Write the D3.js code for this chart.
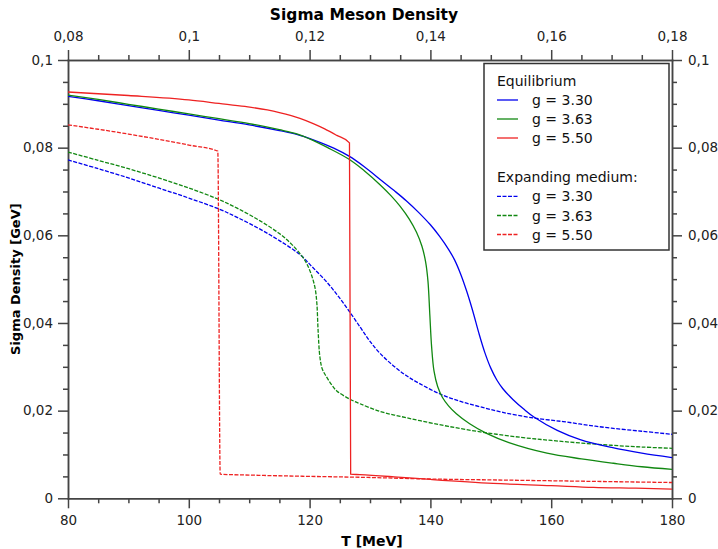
<!DOCTYPE html>
<html>
<head>
<meta charset="utf-8">
<script src="https://cdn.jsdelivr.net/npm/d3@7"></script>
<style>
  body { margin: 0; background: #fff; }
  svg { display: block; font-family: "DejaVu Sans", sans-serif; }
  .axis path, .axis line { stroke: #444; stroke-width: 1.5; }
  .axis text { fill: #222; font-size: 13.5px; font-family: "DejaVu Sans", sans-serif; }
  .curve { fill: none; stroke-width: 1.3; }
</style>
</head>
<body>
<svg id="chart" width="718" height="549"></svg>
<script>
// ============================================
// DATA
// ============================================

// Equilibrium, g = 3.30
const tEq330 = [80, 85, 90, 95, 100, 105, 110, 115, 118, 120.6, 124, 126.6, 129, 132, 134, 136, 138, 140, 141.5, 143, 144, 145, 146, 147, 148, 149, 150, 151, 152, 153.7, 155.5, 157.2, 161, 164.8, 170, 175, 180];
const vEq330 = [0.0917, 0.0907, 0.0896, 0.0885, 0.0874, 0.0863, 0.0852, 0.0839, 0.0830, 0.0818, 0.0799, 0.0780, 0.0757, 0.0724, 0.0702, 0.0679, 0.0653, 0.0624, 0.0598, 0.0568, 0.0544, 0.0512, 0.0473, 0.0428, 0.0378, 0.0333, 0.0297, 0.0270, 0.0250, 0.0225, 0.0203, 0.0185, 0.0155, 0.0134, 0.0116, 0.0103, 0.0093];

// Equilibrium, g = 3.63
const tEq363 = [80, 85, 90, 95, 100, 105, 110, 115, 118, 120, 123, 126.6, 129, 131.7, 133.5, 135, 136.5, 137.7, 138.6, 139.2, 139.6, 139.9, 140.2, 140.6, 141.2, 142, 143, 144.3, 146.5, 149.3, 153, 159.3, 165, 170.3, 175, 180];
const vEq363 = [0.0920, 0.0910, 0.0899, 0.0888, 0.0877, 0.0866, 0.0855, 0.0841, 0.0831, 0.0820, 0.0800, 0.0773, 0.0748, 0.0715, 0.0690, 0.0666, 0.0637, 0.0607, 0.0575, 0.0540, 0.0495, 0.0420, 0.0346, 0.0290, 0.0255, 0.0230, 0.0211, 0.0193, 0.0170, 0.0148, 0.0127, 0.0103, 0.0090, 0.0080, 0.0072, 0.0066];

// Equilibrium, g = 5.50
const tEq550 = [80, 90, 100, 105, 109.3, 113, 115, 118.4, 120.6, 122.5, 124.5, 126.6, 126.8, 128.3, 134, 140, 150.4, 160, 167, 174, 180];
const vEq550 = [0.0927, 0.0919, 0.0909, 0.0901, 0.0894, 0.0886, 0.0880, 0.0867, 0.0855, 0.0843, 0.0828, 0.0811, 0.0055, 0.0054, 0.0049, 0.0043, 0.0034, 0.0029, 0.0025, 0.0023, 0.0021];

// Expanding medium, g = 3.30
const tExp330 = [80, 85, 90, 95, 100, 105, 108, 111.8, 115, 118.4, 120.5, 122.8, 124.8, 126.7, 128.5, 130, 131.7, 133.9, 136, 138.3, 141.6, 145, 148.2, 152, 157.2, 162, 166, 170, 175, 180];
const vExp330 = [0.0772, 0.0752, 0.0731, 0.0708, 0.0685, 0.0660, 0.0641, 0.0614, 0.0588, 0.0556, 0.0527, 0.0494, 0.0460, 0.0424, 0.0388, 0.0358, 0.0330, 0.0302, 0.0280, 0.0261, 0.0238, 0.0221, 0.0209, 0.0196, 0.0183, 0.0175, 0.0167, 0.0160, 0.0153, 0.0146];

// Expanding medium, g = 3.63
const tExp363 = [80, 85, 90, 95, 100, 104.6, 108, 111.8, 115, 117, 118.7, 119.5, 120.3, 120.9, 121.2, 121.4, 121.7, 122.1, 122.8, 123.6, 124.5, 126.7, 128.3, 131.7, 135, 138.3, 143, 149, 155, 160, 165, 170, 175, 180];
const vExp363 = [0.0790, 0.0771, 0.0752, 0.0731, 0.0708, 0.0684, 0.0662, 0.0633, 0.0604, 0.0580, 0.0553, 0.0536, 0.0510, 0.0480, 0.0445, 0.0385, 0.0323, 0.0295, 0.0277, 0.0260, 0.0245, 0.0226, 0.0216, 0.0198, 0.0187, 0.0177, 0.0164, 0.0150, 0.0139, 0.0132, 0.0126, 0.0121, 0.0117, 0.0114];

// Expanding medium, g = 5.50
const tExp550 = [80, 85, 90, 95, 100, 104.8, 105.2, 110, 120, 128.3, 140, 150, 165, 180];
const vExp550 = [0.0852, 0.0842, 0.0831, 0.0819, 0.0806, 0.0792, 0.0055, 0.0053, 0.0050, 0.0048, 0.0044, 0.0042, 0.0039, 0.0036];

// Axis ticks
const tMajor = [80, 100, 120, 140, 160, 180];
const topMajor = [0.08, 0.10, 0.12, 0.14, 0.16, 0.18];
const yMajor = [0, 0.02, 0.04, 0.06, 0.08, 0.10];

const legendLabels = ['g = 3.30', 'g = 3.63', 'g = 5.50'];
const colors = ['#0000ee', '#118811', '#ee2222'];

// ============================================
// LAYOUT
// ============================================

const plotLeft = 68, plotRight = 672, plotTop = 60, plotBottom = 498.3;

const svg = d3.select('#chart');

const x = d3.scaleLinear().domain([80, 180]).range([plotLeft, plotRight]);
const xTop = d3.scaleLinear().domain([0.08, 0.18]).range([plotLeft, plotRight]);
const y = d3.scaleLinear().domain([0, 0.1]).range([plotBottom, plotTop]);

const fmt = d => String(+d.toFixed(3)).replace('.', ',');

// minor ticks
const tMinor = d3.range(80, 180.01, 5).filter(v => v % 20 !== 0);
const topMinor = tMinor.map(v => v / 1000);
const yMinor = d3.range(0, 101, 5).filter(v => v % 20 !== 0).map(v => v / 1000);

function drawAxis(axisFn, scale, major, minor, tx, ty, pad) {
    svg.append('g').attr('class', 'axis')
        .attr('transform', `translate(${tx},${ty})`)
        .call(axisFn(scale).tickValues(minor).tickSize(5).tickSizeOuter(0).tickFormat(''));
    svg.append('g').attr('class', 'axis')
        .attr('transform', `translate(${tx},${ty})`)
        .call(axisFn(scale).tickValues(major).tickSize(10).tickSizeOuter(0).tickPadding(pad).tickFormat(fmt));
}

drawAxis(d3.axisBottom, x, tMajor, tMinor, 0, plotBottom, 7);
drawAxis(d3.axisTop, xTop, topMajor, topMinor, 0, plotTop, 9);
drawAxis(d3.axisLeft, y, yMajor, yMinor, plotLeft, 0, 5);
drawAxis(d3.axisRight, y, yMajor, yMinor, plotRight, 0, 6);

svg.selectAll('.axis .domain').attr('stroke-linecap', 'square');

// ============================================
// CURVES
// ============================================

svg.append('clipPath').attr('id', 'plot-clip')
    .append('rect').attr('x', plotLeft).attr('y', plotTop)
    .attr('width', plotRight - plotLeft).attr('height', plotBottom - plotTop);

// smooth curves use centripetal Catmull-Rom; the red ones with their
// vertical drops use monotone interpolation so the corners stay sharp
const smoothLine = d3.line()
    .x(d => x(d[0]))
    .y(d => y(d[1]))
    .curve(d3.curveCatmullRom.alpha(0.5));

const stepLine = d3.line()
    .x(d => x(d[0]))
    .y(d => y(d[1]))
    .curve(d3.curveMonotoneX);

const series = [
    { t: tExp330, v: vExp330, c: 0, dash: true },
    { t: tExp363, v: vExp363, c: 1, dash: true },
    { t: tExp550, v: vExp550, c: 2, dash: true },
    { t: tEq330, v: vEq330, c: 0, dash: false },
    { t: tEq363, v: vEq363, c: 1, dash: false },
    { t: tEq550, v: vEq550, c: 2, dash: false }
];

const plot = svg.append('g').attr('clip-path', 'url(#plot-clip)');
series.forEach(s => {
    const gen = s.c === 2 ? stepLine : smoothLine;
    plot.append('path')
        .attr('class', 'curve')
        .attr('d', gen(s.t.map((t, i) => [t, s.v[i]])))
        .attr('stroke', colors[s.c])
        .attr('stroke-dasharray', s.dash ? '4,1.5' : null);
});

// ============================================
// LEGEND
// ============================================

const lg = svg.append('g');
lg.append('rect')
    .attr('x', 484).attr('y', 63.5)
    .attr('width', 185).attr('height', 186.5)
    .attr('fill', '#fff').attr('stroke', '#333').attr('stroke-width', 1.5);

lg.append('text').attr('x', 497).attr('y', 85.7)
    .attr('font-size', 14).attr('fill', '#111').text('Equilibrium');
lg.append('text').attr('x', 497).attr('y', 182.3)
    .attr('font-size', 14).attr('fill', '#111').text('Expanding medium:');

const rowsEq = [100, 119, 138];
const rowsExp = [196.3, 215.5, 234.5];
[[rowsEq, false], [rowsExp, true]].forEach(([rows, dash]) => {
    rows.forEach((ry, i) => {
        lg.append('line')
            .attr('x1', 497).attr('x2', 518).attr('y1', ry).attr('y2', ry)
            .attr('stroke', colors[i]).attr('stroke-width', 1.3)
            .attr('stroke-dasharray', dash ? '4,1.5' : null);
        lg.append('text').attr('x', 532).attr('y', ry + 5)
            .attr('font-size', 14).attr('fill', '#111').text(legendLabels[i]);
    });
});

// ============================================
// TITLES
// ============================================

svg.append('text').attr('x', 364).attr('y', 20)
    .attr('text-anchor', 'middle').attr('font-size', 15.5).attr('font-weight', 'bold')
    .text('Sigma Meson Density');

svg.append('text').attr('x', 372).attr('y', 546)
    .attr('text-anchor', 'middle').attr('font-size', 14).attr('font-weight', 'bold')
    .text('T [MeV]');

svg.append('text')
    .attr('transform', `translate(20,${(plotTop + plotBottom) / 2}) rotate(-90)`)
    .attr('text-anchor', 'middle').attr('font-size', 13).attr('font-weight', 'bold')
    .text('Sigma Density [GeV]');
</script>
</body>
</html>
